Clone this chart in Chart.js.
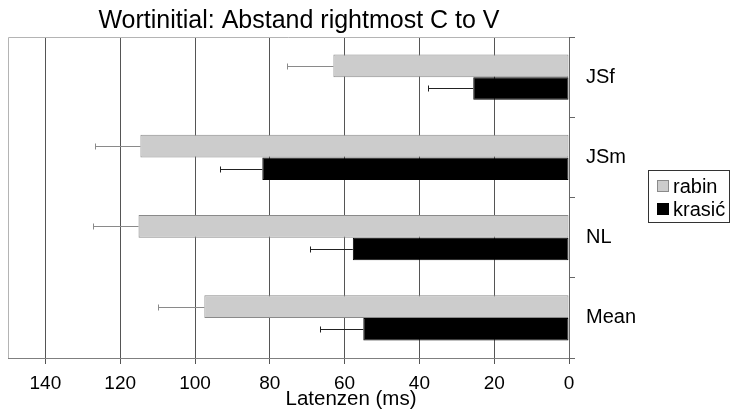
<!DOCTYPE html>
<html><head><meta charset="utf-8">
<script src="https://cdn.jsdelivr.net/npm/chart.js@4.4.0/dist/chart.umd.min.js"></script>
<style>html,body{margin:0;padding:0;background:#fff;} #wrap{width:731px;height:411px;}</style>
</head><body><div id="wrap"><canvas id="c" width="731" height="411"></canvas></div>
<script>
const categories = ['JSf', 'JSm', 'NL', 'Mean'];
const seriesNames = ['rabin', 'krasić'];
const rabinValues = [63.0, 114.6, 115.1, 97.5];
const krasicValues = [25.6, 82.0, 57.8, 55.0];
const rabinErrors = [12.3, 12.2, 12.2, 12.3];
const krasicErrors = [12.0, 11.3, 11.4, 11.7];
const xTickValues = [0, 20, 40, 60, 80, 100, 120, 140];
const chartTitle = 'Wortinitial: Abstand rightmost C to V';
const xAxisTitle = 'Latenzen (ms)';

const FONT = "'Liberation Sans', Arial, sans-serif";
const errorSets = [rabinErrors, krasicErrors];
const errorColors = ['#8a8a8a', '#222222'];

const extras = {
  id: 'extras',
  beforeDatasetsDraw(chart) {
    const {ctx, chartArea: a} = chart;
    ctx.save();
    ctx.strokeStyle = '#b4b4b4';
    ctx.lineWidth = 1;
    ctx.beginPath();
    ctx.moveTo(Math.round(a.left) + 0.5, Math.round(a.bottom));
    ctx.lineTo(Math.round(a.left) + 0.5, Math.round(a.top) + 0.5);
    ctx.lineTo(Math.round(a.right), Math.round(a.top) + 0.5);
    ctx.stroke();
    ctx.restore();
  },
  afterDatasetsDraw(chart) {
    const {ctx} = chart;
    const xs = chart.scales.x;
    ctx.save();
    ctx.lineWidth = 1;
    chart.data.datasets.forEach((ds, i) => {
      const meta = chart.getDatasetMeta(i);
      const errs = errorSets[i];
      ctx.strokeStyle = errorColors[i];
      meta.data.forEach((bar, j) => {
        const y = Math.round(bar.y) + 0.5;
        const x0 = xs.getPixelForValue(ds.data[j]);
        const x1 = Math.round(xs.getPixelForValue(ds.data[j] + errs[j])) + 0.5;
        ctx.beginPath();
        ctx.moveTo(x0, y);
        ctx.lineTo(x1, y);
        ctx.moveTo(x1, y - 3);
        ctx.lineTo(x1, y + 3);
        ctx.stroke();
      });
    });
    ctx.restore();
  },
  afterDraw(chart) {
    const {ctx} = chart;
    ctx.save();
    ctx.fillStyle = '#000';
    ctx.font = '25px ' + FONT;
    ctx.textAlign = 'center';
    ctx.textBaseline = 'alphabetic';
    ctx.fillText(chartTitle, 299, 28);
    ctx.font = '20.5px ' + FONT;
    ctx.fillText(xAxisTitle, 351, 405);
    const lx = 648, ly = 170, lw = 81, lh = 52;
    ctx.strokeStyle = '#333';
    ctx.lineWidth = 1;
    ctx.strokeRect(lx + 0.5, ly + 0.5, lw, lh);
    ctx.font = '20px ' + FONT;
    ctx.textAlign = 'left';
    ctx.textBaseline = 'middle';
    chart.data.datasets.forEach((ds, i) => {
      const cy = ly + 16 + i * 23;
      ctx.fillStyle = ds.backgroundColor;
      ctx.fillRect(lx + 9, cy - 6, 12, 12);
      ctx.strokeStyle = ds.borderColor;
      ctx.strokeRect(lx + 9.5, cy - 5.5, 11, 11);
      ctx.fillStyle = '#000';
      ctx.fillText(ds.label, lx + 25, cy + 1);
    });
    ctx.restore();
  }
};

new Chart(document.getElementById('c'), {
  type: 'bar',
  data: {
    labels: categories,
    datasets: [
      { label: seriesNames[0], data: rabinValues, backgroundColor: '#cccccc', borderColor: '#8a8a8a', borderWidth: 1, borderSkipped: false },
      { label: seriesNames[1], data: krasicValues, backgroundColor: '#000000', borderColor: '#000000', borderWidth: 1, borderSkipped: false }
    ]
  },
  options: {
    indexAxis: 'y',
    responsive: false,
    animation: false,
    events: [],
    categoryPercentage: 0.5625,
    barPercentage: 1,
    layout: { padding: { top: 37, left: 8, right: 72, bottom: 0 } },
    plugins: { legend: { display: false }, title: { display: false }, tooltip: { enabled: false } },
    scales: {
      x: {
        type: 'linear',
        reverse: true,
        min: 0,
        max: 150,
        afterBuildTicks: (s) => { s.ticks = xTickValues.map(v => ({ value: v })); },
        afterFit: (s) => { s.height = 53; },
        grid: { color: '#555', lineWidth: 1, tickLength: 6, drawTicks: true },
        border: { color: '#7f7f7f', width: 1 },
        ticks: { color: '#000', font: { family: FONT, size: 19 }, padding: 8, maxRotation: 0 }
      },
      y: {
        position: 'right',
        afterFit: (s) => { s.width = 90; },
        grid: { drawOnChartArea: false, color: '#666', tickLength: 6, drawTicks: true, offset: true },
        border: { color: '#666', width: 1 },
        ticks: { color: '#000', font: { family: FONT, size: 20 }, padding: 11 }
      }
    }
  },
  plugins: [extras]
});
</script>
</body></html>
